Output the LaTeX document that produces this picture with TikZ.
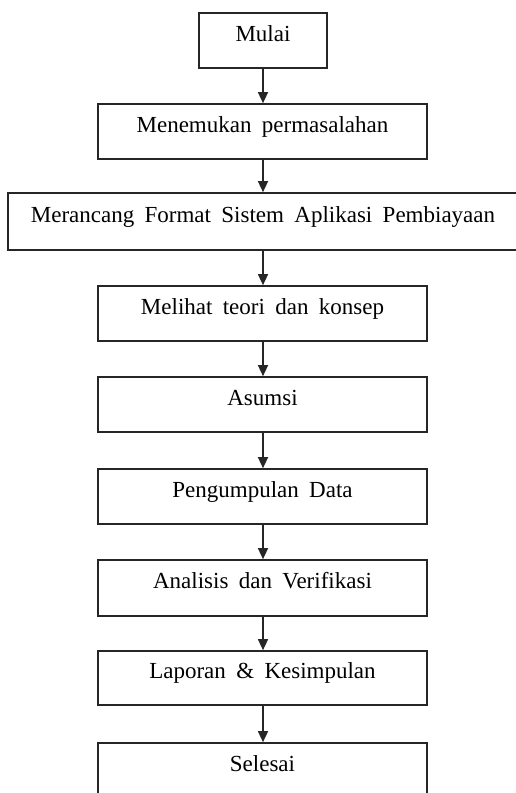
\documentclass[tikz,border=0pt]{standalone}
\usepackage{fontspec}
\setmainfont{Liberation Serif}
\usetikzlibrary{arrows.meta}
\begin{document}
\begin{tikzpicture}[x=1pt,y=-1pt,
  stepbox/.style={draw=black!85, line width=1.7pt, inner sep=0pt,
    minimum height=55pt, minimum width=329pt,
    text height=16pt, text depth=15pt,
    font={\fontsize{23}{27}\selectfont\spaceskip=0.45em plus 0.1em}},
  flow/.style={draw=black!85, line width=1.5pt, -{Triangle[length=11pt,width=10pt]}}]
\useasboundingbox (0,0) rectangle (516,793);
\clip (0,0) rectangle (516,793);
\fill[white] (0,0) rectangle (516,793);

% process steps, top to bottom
\node[stepbox, minimum width=128pt] (b1) at (263,40.5) {Mulai};
\node[stepbox] (b2) at (262.5,131.5) {Menemukan permasalahan};
\node[stepbox, minimum width=510pt, minimum height=57pt] (b3) at (263,221.5) {Merancang Format Sistem Aplikasi Pembiayaan};
\node[stepbox] (b4) at (262.5,313.5) {Melihat teori dan konsep};
\node[stepbox] (b5) at (262.5,404.5) {Asumsi};
\node[stepbox] (b6) at (262.5,496.5) {Pengumpulan Data};
\node[stepbox, minimum height=56pt] (b7) at (262.5,588) {Analisis dan Verifikasi};
\node[stepbox, minimum height=54pt] (b8) at (262.5,678) {Laporan \& Kesimpulan};
\node[stepbox] (b9) at (262.5,770.5) {Selesai};

% connectors
\draw[flow] (b1.south) -- (b2.north -| b1.south);
\draw[flow] (b2.south -| b1.south) -- (b3.north -| b1.south);
\draw[flow] (b3.south -| b1.south) -- (b4.north -| b1.south);
\draw[flow] (b4.south -| b1.south) -- (b5.north -| b1.south);
\draw[flow] (b5.south -| b1.south) -- (b6.north -| b1.south);
\draw[flow] (b6.south -| b1.south) -- (b7.north -| b1.south);
\draw[flow] (b7.south -| b1.south) -- (b8.north -| b1.south);
\draw[flow] (b8.south -| b1.south) -- (b9.north -| b1.south);
\end{tikzpicture}
\end{document}
